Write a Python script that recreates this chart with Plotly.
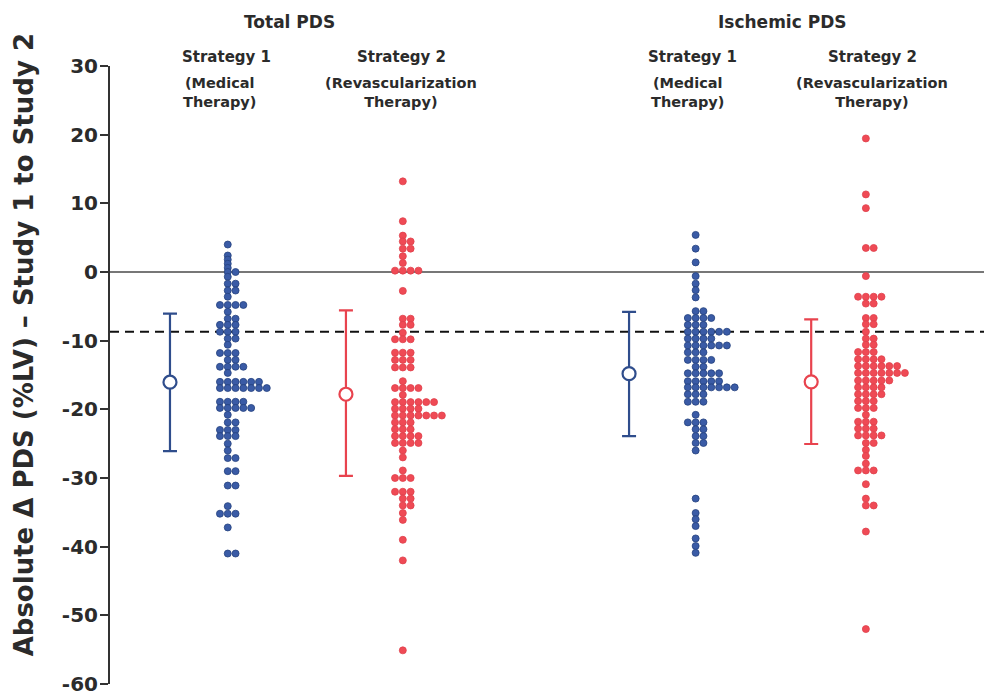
import plotly.graph_objects as go

# ---------------- data ----------------
# Each group: row values (%LV) and number of patients (dots) in that row
total_s1_rows = [4, 2.4, 1.8, 1.2, 0.6, 0, -0.7, -1.7, -2.7, -3.6, -4.8, -5.8, -6.8, -7.7, -8.7,
                 -9.7, -10.6, -11.8, -12.8, -13.8, -14.7, -16, -16.9, -18.9, -19.8, -20.8, -21.9,
                 -23, -23.9, -25, -26, -27.1, -29, -31.1, -34.1, -35.2, -37.2, -41]
total_s1_counts = [1, 1, 1, 1, 1, 2, 1, 2, 2, 1, 4, 1, 2, 3, 3, 2, 1, 3, 2, 4, 1, 6, 7, 4, 5, 1, 2,
                   3, 3, 1, 1, 2, 2, 2, 1, 3, 1, 2]

total_s2_rows = [13.2, 7.4, 5.3, 4.45, 3.4, 2.3, 1.3, 0.2, -2.75, -6.8, -7.7, -8.85, -9.8, -11.75,
                 -12.8, -13.9, -15.9, -16.9, -17.9, -18.95, -19.9, -20.9, -21.9, -22.9, -23.9,
                 -24.9, -26, -27, -28.9, -30, -32, -33, -34, -35.1, -36.1, -39, -42, -55.1]
total_s2_counts = [1, 1, 1, 2, 2, 1, 1, 4, 1, 2, 2, 1, 3, 3, 3, 3, 1, 4, 1, 6, 4, 7, 3, 3, 4, 4,
                   1, 1, 1, 3, 3, 2, 2, 1, 1, 1, 1, 1]

isch_s1_rows = [5.4, 3.4, 1.4, -0.6, -1.7, -2.65, -3.7, -5.7, -6.7, -7.7, -8.7, -9.7, -10.7, -11.7,
                -12.8, -13.8, -14.75, -15.9, -16.8, -17.8, -18.9, -20.8, -21.9, -22.9, -23.9, -24.9,
                -26, -33, -35.1, -36, -37, -38.8, -39.9, -40.9]
isch_s1_counts = [1, 1, 1, 1, 1, 1, 1, 2, 4, 3, 6, 4, 6, 3, 4, 2, 5, 5, 7, 3, 3, 1, 3, 2, 2, 2,
                  1, 1, 1, 1, 1, 1, 1, 1]

isch_s2_rows = [19.45, 11.3, 9.3, 3.5, -0.6, -3.6, -4.6, -6.7, -7.6, -8.7, -9.7, -10.6, -11.65,
                -12.7, -13.7, -14.7, -15.8, -16.8, -17.8, -18.8, -19.8, -20.8, -21.8, -22.8, -23.8,
                -24.9, -25.9, -26.8, -27.9, -28.9, -30.9, -33, -34, -37.8, -52]
isch_s2_counts = [1, 1, 1, 2, 1, 4, 2, 2, 2, 1, 2, 2, 3, 4, 6, 7, 5, 4, 4, 3, 3, 1, 3, 3, 4, 2,
                  1, 1, 1, 3, 1, 1, 2, 1, 1]

# summary: mean with range bars
summary_mean = [-16.05, -17.8, -14.8, -16.0]
summary_upper = [-6.05, -5.6, -5.8, -6.9]
summary_lower = [-26.1, -29.7, -23.9, -25.05]

zero_line = 0
ref_line = -8.7

y_ticks = [30, 20, 10, 0, -10, -20, -30, -40, -50, -60]

# ---------------- styling / layout ----------------
BLUE = "#3a5ba6"
BLUE_EDGE = "#24417e"
BLUE_BAR = "#2f4d8c"
RED = "#ef4a55"
RED_EDGE = "#e0404b"
RED_BAR = "#e8434e"

group_pos = [13.35, 33.2, 66.4, 85.7]      # x of main dot column (x axis 0..100)
bar_pos = [6.8, 26.75, 58.85, 79.5]        # x of mean/range bar
col_step = 0.885

groups = [
    (total_s1_rows, total_s1_counts, BLUE, BLUE_EDGE),
    (total_s2_rows, total_s2_counts, RED, RED_EDGE),
    (isch_s1_rows, isch_s1_counts, BLUE, BLUE_EDGE),
    (isch_s2_rows, isch_s2_counts, RED, RED_EDGE),
]
bar_colors = [BLUE_BAR, RED_BAR, BLUE_BAR, RED_BAR]

fig = go.Figure()

for gi, (rows, counts, col, edge) in enumerate(groups):
    xs, ys = [], []
    for v, n in zip(rows, counts):
        start = -1 if n >= 3 else 0
        for k in range(n):
            xs.append(group_pos[gi] + (start + k) * col_step)
            ys.append(v)
    fig.add_trace(go.Scatter(
        x=xs, y=ys, mode="markers",
        marker=dict(size=7, color=col, line=dict(color=edge, width=0.8)),
        showlegend=False, hoverinfo="y"))

for gi in range(4):
    m = summary_mean[gi]
    fig.add_trace(go.Scatter(
        x=[bar_pos[gi]], y=[m], mode="markers",
        marker=dict(size=13, color="white", symbol="circle",
                    line=dict(color=bar_colors[gi], width=2.2)),
        error_y=dict(type="data", symmetric=False,
                     array=[summary_upper[gi] - m], arrayminus=[m - summary_lower[gi]],
                     color=bar_colors[gi], thickness=2.2, width=7),
        showlegend=False, hoverinfo="y"))

fig.add_shape(type="line", xref="paper", x0=0, x1=1, yref="y", y0=zero_line, y1=zero_line,
              line=dict(color="#4a4a4a", width=1.6), layer="below")
fig.add_shape(type="line", xref="paper", x0=0, x1=1, yref="y", y0=ref_line, y1=ref_line,
              line=dict(color="#111111", width=2, dash="9px,6px"), layer="below")

HF = "DejaVu Sans"
TXT = "#2b2b2b"

def ann(text, x, y, size, xanchor="center", **kw):
    fig.add_annotation(text=text, x=x, y=y, xref="paper", yref="paper", showarrow=False,
                       xanchor=xanchor, yanchor="middle",
                       font=dict(family=HF, size=size, color=TXT), **kw)

# panel headers (paper coords)
ann("<b>Total PDS</b>", 0.204, 1.071, 17)
ann("<b>Ischemic PDS</b>", 0.763, 1.071, 17)
ann("<b>Strategy 1</b>", 0.132, 1.0145, 15)
ann("<b>(Medical<br>Therapy)</b>", 0.124, 0.9565, 14.5)
ann("<b>Strategy 2</b>", 0.331, 1.0145, 15)
ann("<b>(Revascularization<br>Therapy)</b>", 0.330, 0.9565, 14.5)
ann("<b>Strategy 1</b>", 0.660, 1.0145, 15)
ann("<b>(Medical<br>Therapy)</b>", 0.655, 0.9565, 14.5)
ann("<b>Strategy 2</b>", 0.865, 1.0145, 15)
ann("<b>(Revascularization<br>Therapy)</b>", 0.864, 0.9565, 14.5)

# y-axis title
fig.add_annotation(text="<b>Absolute \u0394 PDS (%LV) \u2013 Study 1 to Study 2</b>",
                   x=0, xshift=-86, y=0.548, xref="paper", yref="paper", textangle=-90,
                   showarrow=False, xanchor="center", yanchor="middle",
                   font=dict(family=HF, size=26, color=TXT))

# page body has an 8px default margin -> figure is 984x688 so the plot lands where the reference is
fig.update_layout(
    width=984, height=688,
    margin=dict(l=102, r=0, t=58, b=9),
    paper_bgcolor="white", plot_bgcolor="white",
    xaxis=dict(range=[0, 100], visible=False, fixedrange=True),
    yaxis=dict(range=[-60, 30], tickvals=y_ticks, ticktext=["<b>%d</b>" % t for t in y_ticks],
               showgrid=False, zeroline=False, showline=True, linecolor="#333333", linewidth=2,
               ticks="outside", ticklen=8, tickwidth=2, tickcolor="#333333",
               tickfont=dict(family=HF, size=20, color=TXT), ticklabelstandoff=-2,
               ticklabeloverflow="allow"),
    showlegend=False,
)

fig.write_html("out.html")
